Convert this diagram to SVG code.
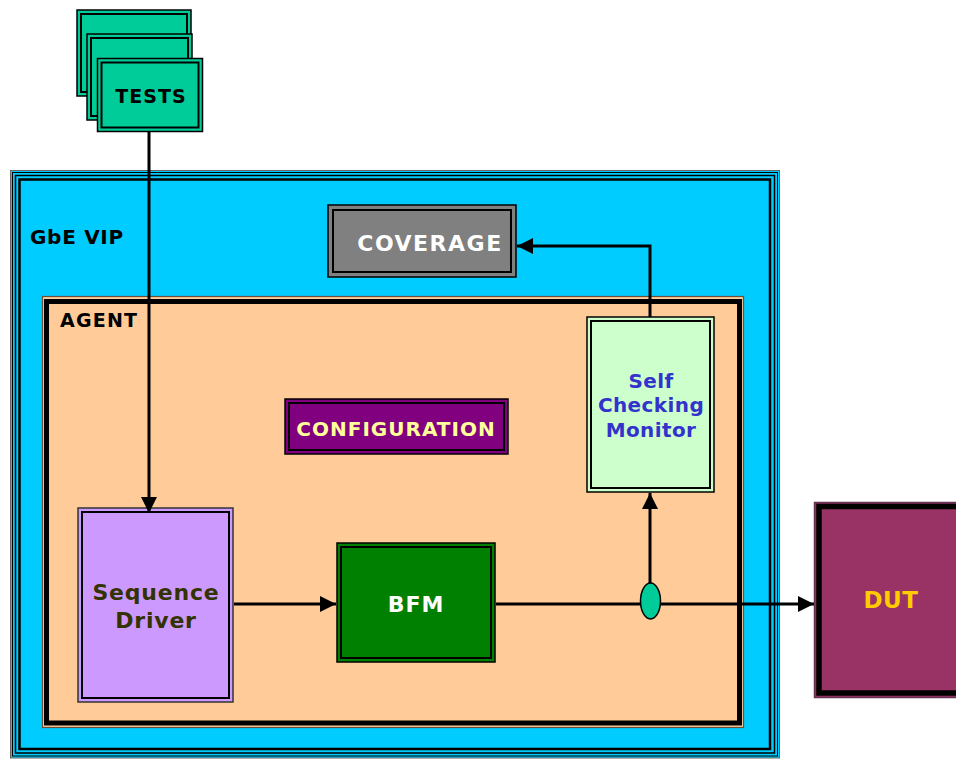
<svg xmlns="http://www.w3.org/2000/svg" width="956" height="759" viewBox="0 0 956 759">
<style>
text{font-family:"DejaVu Sans","Verdana",sans-serif;font-weight:bold}
.o{stroke:#000;stroke-width:1.5}
.i{fill:none;stroke:#000;stroke-width:2}
.c{text-anchor:middle}
.ln{fill:none;stroke:#000;stroke-width:3}
</style>
<defs>
<marker id="ah" markerWidth="16" markerHeight="16" viewBox="0 0 16 16" refX="16" refY="8" orient="auto" markerUnits="userSpaceOnUse">
<path d="M0,0 L16,8 L0,16 Z" fill="#000"/>
</marker>
</defs>
<rect width="956" height="759" fill="#fff"/>

<g id="gbe-vip">
<rect x="10.5" y="170.5" width="769" height="587.5" fill="#00CCFF" stroke="#666" stroke-width="1"/>
<rect x="12.5" y="172.5" width="765" height="583.5" fill="none" stroke="#000" stroke-width="1"/>
<rect x="15.5" y="175.5" width="759" height="577.5" fill="none" stroke="#000" stroke-width="1.5"/>
<rect x="19.5" y="179.5" width="750.5" height="569.5" fill="none" stroke="#000" stroke-width="2.5"/>
<text x="30" y="244" font-size="20" letter-spacing="0.7" fill="#000">GbE VIP</text>
</g>

<g id="coverage">
<rect x="328" y="205" width="188" height="72" fill="#808080" class="o"/>
<rect x="333" y="210" width="178" height="62" class="i"/>
<text x="430" y="251" font-size="22" letter-spacing="1.5" class="c" fill="#fff">COVERAGE</text>
</g>

<g id="agent">
<rect x="42.5" y="296.5" width="701" height="431" fill="#FFCC99" stroke="#6a5038" stroke-width="1.2"/>
<rect x="46.5" y="301.5" width="693" height="421.5" fill="none" stroke="#000" stroke-width="5"/>
<text x="60" y="327" font-size="19" letter-spacing="1.2" fill="#000">AGENT</text>
</g>

<g id="tests">
<rect x="77" y="10" width="114" height="86" fill="#00CC99" class="o"/>
<rect x="81" y="14" width="106" height="78" class="i"/>
<rect x="87" y="34" width="105" height="86" fill="#00CC99" class="o"/>
<rect x="91" y="38" width="97" height="78" class="i"/>
<rect x="97.5" y="58.5" width="105" height="73" fill="#00CC99" class="o"/>
<rect x="101.5" y="62.5" width="97" height="65" class="i"/>
<text x="151" y="103" font-size="19" letter-spacing="1" class="c" fill="#000">TESTS</text>
</g>

<g id="configuration">
<rect x="285" y="399" width="223" height="55" fill="#800080" class="o"/>
<rect x="289" y="403" width="215" height="47" class="i"/>
<text x="396" y="436" font-size="20" letter-spacing="1" class="c" fill="#FFFF99">CONFIGURATION</text>
</g>

<g id="monitor">
<rect x="587" y="317" width="127" height="175" fill="#CCFFCC" class="o"/>
<rect x="591" y="321" width="119" height="167" class="i"/>
<text x="651" y="388" font-size="20" letter-spacing="0.4" class="c" fill="#3333CC">Self</text>
<text x="651" y="412" font-size="20" letter-spacing="0.4" class="c" fill="#3333CC">Checking</text>
<text x="651" y="437" font-size="20" letter-spacing="0.4" class="c" fill="#3333CC">Monitor</text>
</g>

<g id="sequence-driver">
<rect x="78" y="508" width="155" height="194" fill="#CC99FF" stroke="#333" stroke-width="1.5"/>
<rect x="82" y="512" width="147" height="186" class="i"/>
<text x="156" y="600" font-size="22" letter-spacing="0.8" class="c" fill="#333300">Sequence</text>
<text x="156" y="628" font-size="22" letter-spacing="0.8" class="c" fill="#333300">Driver</text>
</g>

<g id="bfm">
<rect x="337" y="543" width="158" height="119" fill="#008000" class="o"/>
<rect x="341" y="547" width="150" height="111" class="i"/>
<text x="416" y="612" font-size="22" letter-spacing="1" class="c" fill="#fff">BFM</text>
</g>

<g id="dut">
<rect x="814.5" y="502.5" width="150" height="195" fill="#993366" stroke="#663355" stroke-width="1.5"/>
<rect x="819" y="506.5" width="150" height="186.5" fill="none" stroke="#000" stroke-width="5.5"/>
<text x="891" y="608" font-size="23" letter-spacing="0.5" class="c" fill="#FFCC00">DUT</text>
</g>

<g id="connectors">
<line x1="149" y1="132" x2="149" y2="513" class="ln" marker-end="url(#ah)"/>
<line x1="234" y1="604" x2="336" y2="604" class="ln" marker-end="url(#ah)"/>
<line x1="496" y1="604" x2="814" y2="604" class="ln" marker-end="url(#ah)"/>
<line x1="650" y1="584" x2="650" y2="493" class="ln" marker-end="url(#ah)"/>
<polyline points="650,317 650,246 517,246" class="ln" marker-end="url(#ah)"/>
<ellipse cx="650.5" cy="601" rx="10" ry="18" fill="#00CC99" stroke="#000" stroke-width="1.5"/>
</g>
</svg>
